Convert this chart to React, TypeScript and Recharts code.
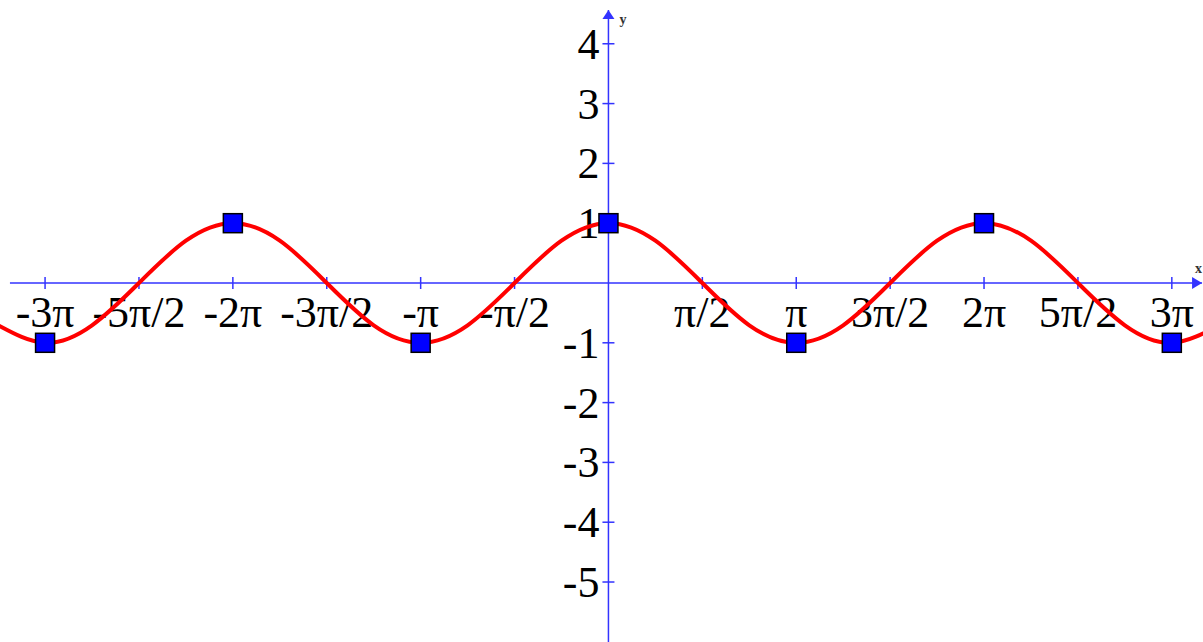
import React from "react";
import {
  ComposedChart,
  Line,
  Scatter,
  XAxis,
  YAxis,
  ReferenceLine,
  ReferenceDot,
} from "recharts";

// x values are in multiples of π
const curveX = [
  -3.25, -3, -2.75, -2.5, -2.25, -2, -1.75, -1.5, -1.25, -1, -0.75, -0.5, -0.25,
  0, 0.25, 0.5, 0.75, 1, 1.25, 1.5, 1.75, 2, 2.25, 2.5, 2.75, 3, 3.25,
];
const curveY = [
  -0.707, -1, -0.707, 0, 0.707, 1, 0.707, 0, -0.707, -1, -0.707, 0, 0.707,
  1, 0.707, 0, -0.707, -1, -0.707, 0, 0.707, 1, 0.707, 0, -0.707, -1, -0.707,
];

const markerX = [-3, -2, -1, 0, 1, 2, 3];
const markerY = [-1, 1, -1, 1, -1, 1, -1];

const xTicks = [-3, -2.5, -2, -1.5, -1, -0.5, 0.5, 1, 1.5, 2, 2.5, 3];
const xTickLabels = [
  "-3π", "-5π/2", "-2π", "-3π/2", "-π", "-π/2",
  "π/2", "π", "3π/2", "2π", "5π/2", "3π",
];
const yTicks = [4, 3, 2, 1, -1, -2, -3, -4, -5];
const yTickLabels = ["4", "3", "2", "1", "-1", "-2", "-3", "-4", "-5"];

const X_DOMAIN: [number, number] = [-3.24, 3.166];
const Y_DOMAIN: [number, number] = [-6.003, 4.732];
const X_AXIS_START = -3.187;
const X_AXIS_END = 3.161;
const Y_AXIS_TOP = 4.565;

const AXIS = "#3333ff";
const CURVE = "#ff0000";
const SERIF = "Liberation Serif";

const curveData = curveX.map((x, i) => ({ x, y: curveY[i] }));
const markerData = markerX.map((x, i) => ({ x, y: markerY[i] }));

const SquareMarker = (props: any) => {
  const { cx, cy } = props;
  if (cx == null || cy == null) return null;
  const s = 19;
  return (
    <rect
      x={cx - s / 2}
      y={cy - s / 2}
      width={s}
      height={s}
      fill="#0000ff"
      stroke="#000"
      strokeWidth={1.5}
    />
  );
};

const xTickMark = (props: any) => (
  <line
    x1={props.cx}
    y1={props.cy - 6}
    x2={props.cx}
    y2={props.cy + 6}
    stroke={AXIS}
    strokeWidth={1.5}
  />
);

const yTickMark = (props: any) => (
  <line
    x1={props.cx - 6}
    y1={props.cy}
    x2={props.cx + 6}
    y2={props.cy}
    stroke={AXIS}
    strokeWidth={1.5}
  />
);

const xTickText = (label: string) => (props: any) => (
  <text
    x={props.cx}
    y={props.cy + 44}
    textAnchor="middle"
    fontFamily={SERIF}
    fontSize={44}
  >
    {label}
  </text>
);

const yTickText = (label: string) => (props: any) => (
  <text
    x={props.cx - 9}
    y={props.cy + 15}
    textAnchor="end"
    fontFamily={SERIF}
    fontSize={44}
  >
    {label}
  </text>
);

const xArrowHead = (props: any) => (
  <polygon
    points={`${props.cx},${props.cy} ${props.cx - 10},${props.cy - 6} ${props.cx - 10},${props.cy + 6}`}
    fill={AXIS}
  />
);

const yArrowHead = (props: any) => (
  <polygon
    points={`${props.cx},${props.cy} ${props.cx - 6},${props.cy + 9} ${props.cx + 6},${props.cy + 9}`}
    fill={AXIS}
  />
);

const xName = (props: any) => (
  <text
    x={props.cx - 7}
    y={props.cy - 10}
    fontFamily={SERIF}
    fontSize={14}
    fontWeight="bold"
    fill="#333"
  >
    x
  </text>
);

const yName = (props: any) => (
  <text
    x={props.cx + 11}
    y={props.cy + 14}
    fontFamily={SERIF}
    fontSize={14}
    fontWeight="bold"
    fill="#333"
  >
    y
  </text>
);

export default function App() {
  return (
    <div
      style={{
        position: "absolute",
        left: 0,
        top: 0,
        width: 1203,
        height: 642,
        background: "#fff",
        overflow: "hidden",
      }}
    >
      <ComposedChart
        width={1203}
        height={642}
        margin={{ top: 0, right: 0, bottom: 0, left: 0 }}
      >
        <XAxis
          type="number"
          dataKey="x"
          domain={X_DOMAIN}
          allowDataOverflow
          hide
        />
        <YAxis
          type="number"
          dataKey="y"
          domain={Y_DOMAIN}
          allowDataOverflow
          hide
        />

        <ReferenceLine
          segment={[
            { x: X_AXIS_START, y: 0 },
            { x: X_AXIS_END, y: 0 },
          ]}
          stroke={AXIS}
          strokeWidth={1.5}
          zIndex={10}
        />
        <ReferenceLine
          segment={[
            { x: 0, y: Y_DOMAIN[0] },
            { x: 0, y: Y_AXIS_TOP },
          ]}
          stroke={AXIS}
          strokeWidth={1.5}
          zIndex={10}
        />

        {xTicks.map((t, i) => (
          <ReferenceDot key={`xm${i}`} x={t} y={0} r={0} shape={xTickMark} zIndex={20} />
        ))}
        {yTicks.map((t, i) => (
          <ReferenceDot key={`ym${i}`} x={0} y={t} r={0} shape={yTickMark} zIndex={20} />
        ))}
        {xTicks.map((t, i) => (
          <ReferenceDot
            key={`xl${i}`}
            x={t}
            y={0}
            r={0}
            shape={xTickText(xTickLabels[i])}
            zIndex={20}
          />
        ))}
        {yTicks.map((t, i) => (
          <ReferenceDot
            key={`yl${i}`}
            x={0}
            y={t}
            r={0}
            shape={yTickText(yTickLabels[i])}
            zIndex={20}
          />
        ))}
        <ReferenceDot x={X_AXIS_END} y={0} r={0} shape={xArrowHead} zIndex={20} />
        <ReferenceDot x={0} y={Y_AXIS_TOP} r={0} shape={yArrowHead} zIndex={20} />
        <ReferenceDot x={X_AXIS_END} y={0} r={0} shape={xName} zIndex={20} />
        <ReferenceDot x={0} y={Y_AXIS_TOP} r={0} shape={yName} zIndex={20} />

        <Line
          data={curveData}
          dataKey="y"
          type="natural"
          stroke={CURVE}
          strokeWidth={4}
          dot={false}
          activeDot={false}
          isAnimationActive={false}
          zIndex={400}
        />
        <Scatter
          data={markerData}
          dataKey="y"
          shape={SquareMarker}
          isAnimationActive={false}
          zIndex={600}
        />
      </ComposedChart>
    </div>
  );
}
